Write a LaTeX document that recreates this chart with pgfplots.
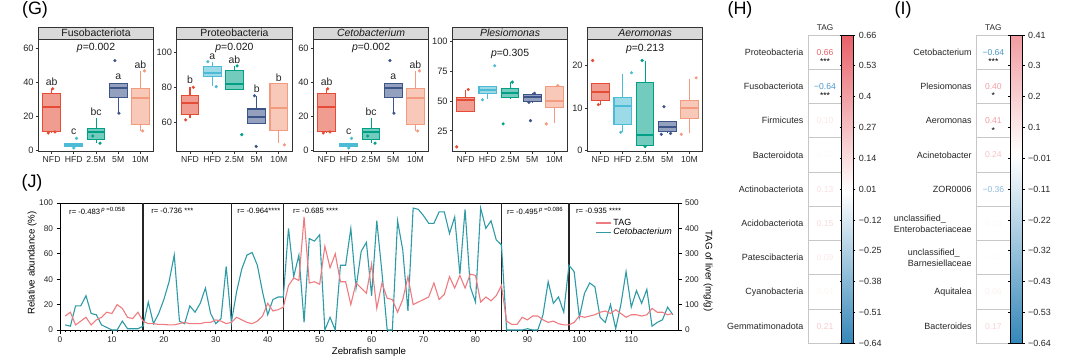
\documentclass[border=0pt]{standalone}
\usepackage{fontspec}
\setmainfont{Liberation Sans}
\usepackage{pgfplots}
\usepackage{pgfplotstable}
\pgfplotsset{compat=1.18}
\usepgfplotslibrary{statistics}
\newcommand{\fs}[1]{\fontsize{#1}{#1}\selectfont}
\definecolor{cNFD}{HTML}{E64B35}
\definecolor{cHFD}{HTML}{4DBBD5}
\definecolor{cA}{HTML}{00A087}
\definecolor{cB}{HTML}{3C5488}
\definecolor{cC}{HTML}{F39B7F}
\definecolor{tagred}{HTML}{EE7B80}
\definecolor{cetoteal}{HTML}{2E9AA6}
\definecolor{hred}{RGB}{232,96,104}
\definecolor{hbluet}{RGB}{74,152,200}

\pgfplotstableread[row sep=\\]{
x y\\
1 4\\2 3\\3 19\\4 19\\5 27\\6 13\\7 12\\8 4\\9 2\\10 0\\11 0\\12 7\\13 1\\14 1\\15 1\\16 3\\17 22\\18 5\\19 13\\20 24\\21 38\\22 59\\23 7\\24 5\\25 19\\26 14\\27 21\\28 33\\29 13\\30 5\\31 9\\32 50\\33 6\\34 30\\35 48\\36 59\\37 61\\38 51\\39 30\\40 12\\41 24\\42 26\\43 26\\44 80\\45 42\\46 59\\47 6\\48 72\\49 70\\50 75\\51 0\\52 10\\53 0\\54 51\\55 51\\56 80\\57 33\\58 62\\59 69\\60 27\\61 86\\62 45\\63 0\\64 0\\65 86\\66 63\\67 15\\68 96\\69 95\\70 90\\71 84\\72 84\\73 93\\74 93\\75 76\\76 89\\77 44\\78 95\\79 34\\80 22\\81 96\\82 80\\83 86\\84 71\\85 67\\86 0\\87 0\\88 0\\89 0\\90 1\\91 0\\92 0\\93 12\\94 38\\95 21\\96 26\\97 14\\98 51\\99 46\\100 10\\101 29\\102 37\\103 34\\104 10\\105 6\\106 20\\107 1\\108 20\\109 46\\110 18\\111 31\\112 21\\113 32\\114 3\\115 6\\116 8\\117 18\\118 12\\
}\cetotab

\pgfplotstableread[row sep=\\]{
x y\\
1 55\\2 70\\3 20\\4 35\\5 50\\6 20\\7 40\\8 50\\9 70\\10 65\\11 100\\12 85\\13 50\\14 45\\15 70\\16 35\\17 25\\18 25\\19 22\\20 22\\21 20\\22 20\\23 25\\24 30\\25 25\\26 25\\27 25\\28 30\\29 30\\30 40\\31 35\\32 25\\33 30\\34 50\\35 40\\36 30\\37 25\\38 35\\39 55\\40 105\\41 75\\42 80\\43 90\\44 175\\45 205\\46 195\\47 445\\48 185\\49 190\\50 180\\51 330\\52 245\\53 300\\54 190\\55 190\\56 100\\57 185\\58 165\\59 145\\60 260\\61 85\\62 185\\63 125\\64 120\\65 70\\66 120\\67 210\\68 100\\69 110\\70 120\\71 130\\72 185\\73 120\\74 140\\75 210\\76 165\\77 215\\78 165\\79 220\\80 215\\81 110\\82 130\\83 115\\84 135\\85 175\\86 35\\87 22\\88 22\\89 50\\90 40\\91 55\\92 55\\93 40\\94 30\\95 35\\96 25\\97 20\\98 20\\99 30\\100 55\\101 50\\102 55\\103 60\\104 70\\105 75\\106 65\\107 80\\108 65\\109 50\\110 60\\111 60\\112 55\\113 60\\114 85\\115 70\\116 70\\117 60\\118 65\\
}\tagtab

\pgfplotsset{
 gpanel/.style={scale only axis, width=115.5bp, height=112.4bp, anchor=south west,
  xmin=0.4, xmax=5.6, xtick={1,2,3,4,5}, xticklabels={NFD,HFD,2.5M,5M,10M},
  tick align=outside, tick pos=left, major tick length=2.5bp,
  axis line style={black!80, line width=0.8bp},
  tick style={black!80, line width=0.8bp},
  xticklabel style={font=\fs{8.7}, text=black!85, inner sep=2bp},
  yticklabel style={font=\fs{9.3}, text=black!85, inner sep=2bp},
  /pgf/number format/assume math mode=true,
  boxplot/draw direction=y, clip=false,
  boxplot/box extend=0.8, boxplot/whisker extend=0,
  boxplot/every median/.style={line width=2bp},
 },
 hpanel/.style={scale only axis, anchor=south west, height=308.3bp,
  xmin=0, xmax=1, ymin=0, ymax=9, xtick=\empty,
  ytick={0.5,1.5,...,8.5}, major tick length=0pt,
  minor ytick={1,2,...,8}, yminorgrids=true, minor tick length=0pt,
  minor grid style={black!22, line width=1bp},
  axis line style={black!22, line width=1bp},
  yticklabel style={font=\fs{9}, text=black!85, xshift=-1.5bp, align=left},
  clip=false, colorbar shift/.style={xshift=0pt},
 },
}
\newcommand{\bx}[7]{\addplot[boxplot prepared={draw position=#2, lower whisker=#3, lower quartile=#4, median=#5, upper quartile=#6, upper whisker=#7}, draw=#1, fill=#1!55!white, line width=1.1bp, mark=none] coordinates {};}
\newcommand{\pts}[2]{\addplot[only marks, mark=*, mark size=1.4bp, color=#1] coordinates {#2};}
\newcommand{\strip}[1]{\draw[black!80, line width=0.8bp, fill=black!15] (rel axis cs:0,1) rectangle ([yshift=12.3bp]rel axis cs:1,1); \node[font=\fs{10.5}, text=black!90] at ([yshift=6.2bp]rel axis cs:0.5,1) {#1};}
\newcommand{\lt}[3]{\node[font=\fs{10.5}, text=black!85] at (axis cs:#1,#2) {#3};}
\newcommand{\pv}[2]{\node[font=\fs{10.5}, text=black!90] at (axis cs:3,#1) {\textit{p}=#2};}

\begin{document}
\begin{tikzpicture}
\useasboundingbox (0,0) rectangle (1080bp,359bp);

% panel letters
\node[font=\fs{18}] at (35bp,349bp) {(G)};
\node[font=\fs{18}] at (740bp,349bp) {(H)};
\node[font=\fs{18}] at (903bp,349bp) {(I)};
\node[font=\fs{18}] at (32bp,176bp) {(J)};

% ---------- G1 Fusobacteriota
\begin{axis}[gpanel, at={(38.3bp,207.3bp)}, ymin=-0.6, ymax=65.3, ytick={0,20,40,60}]
\bx{cNFD}{1}{10.5}{11.5}{25.4}{33.6}{36}
\bx{cHFD}{2}{1.5}{2.3}{3.2}{4.0}{4.6}
\bx{cA}{3}{4.7}{6.6}{10.7}{13.1}{19}
\bx{cB}{4}{21.9}{31}{37}{39.5}{39.5}
\bx{cC}{5}{11.5}{15.4}{31}{36.5}{46.7}
\pts{cNFD}{(1.05,36.3)(0.85,10.4)(1.15,11.0)}
\pts{cHFD}{(2.12,7.2)(2.0,1.6)}
\pts{cA}{(3.18,4.4)(2.85,8.6)}
\pts{cB}{(3.85,52.8)(4.03,22.0)}
\pts{cC}{(5.18,46.8)(5.1,11.6)}
\lt{1}{40.2}{ab}\lt{2}{11.1}{c}\lt{3}{22.9}{bc}\lt{4}{43.6}{a}\lt{5}{50.6}{ab}
\pv{60.4}{0.002}
\strip{Fusobacteriota}
\end{axis}

% ---------- G2 Proteobacteria
\begin{axis}[gpanel, at={(176.7bp,207.3bp)}, ymin=43.5, ymax=107.4, ytick={60,80,100}]
\bx{cNFD}{1}{62.5}{64.7}{71}{75.4}{80.1}
\bx{cHFD}{2}{81}{86.5}{88.4}{91.8}{94.7}
\bx{cA}{3}{79}{79}{81.8}{89.6}{92.4}
\bx{cB}{4}{59.6}{59.6}{63.4}{67.8}{75.2}
\bx{cC}{5}{48.2}{55.8}{68.2}{82.4}{82.4}
\pts{cNFD}{(1.15,80.1)(0.8,61.6)}
\pts{cHFD}{(1.8,94.7)(2.18,80.5)}
\pts{cA}{(3.33,53.2)(3.12,92.3)}
\pts{cB}{(3.9,75.3)(3.98,46.5)}
\pts{cC}{(5.25,47.4)}
\lt{1}{84.3}{b}\lt{2}{97.6}{a}\lt{3}{95.9}{ab}\lt{4}{79.2}{b}\lt{5}{85.8}{b}
\pv{102.7}{0.020}
\strip{Proteobacteria}
\end{axis}

% ---------- G3 Cetobacterium
\begin{axis}[gpanel, at={(313.3bp,207.3bp)}, ymin=-0.6, ymax=65.3, ytick={0,20,40,60}]
\bx{cNFD}{1}{10.5}{11.5}{25.4}{33.6}{36}
\bx{cHFD}{2}{1.5}{2.3}{3.2}{4.0}{4.6}
\bx{cA}{3}{4.7}{6.6}{10.7}{13.1}{19}
\bx{cB}{4}{21.9}{31}{37}{39.5}{39.5}
\bx{cC}{5}{11.5}{15.4}{31}{36.5}{46.7}
\pts{cNFD}{(1.05,36.3)(0.85,10.4)(1.15,11.0)}
\pts{cHFD}{(2.12,7.2)(2.0,1.6)}
\pts{cA}{(3.18,4.4)(2.85,8.6)}
\pts{cB}{(3.85,52.8)(4.03,22.0)}
\pts{cC}{(5.18,46.8)(5.1,11.6)}
\lt{1}{40.2}{ab}\lt{2}{11.1}{c}\lt{3}{22.9}{bc}\lt{4}{43.6}{a}\lt{5}{50.6}{ab}
\pv{60.4}{0.002}
\strip{\textit{Cetobacterium}}
\end{axis}

% ---------- G4 Plesiomonas
\begin{axis}[gpanel, at={(452.3bp,207.3bp)}, ymin=7.5, ymax=102, ytick={25,50,75,100}]
\bx{cNFD}{1}{41}{41}{51.2}{53}{59.2}
\bx{cHFD}{2}{51.7}{56.5}{59.2}{62}{63}
\bx{cA}{3}{52.3}{53}{57}{61}{66.4}
\bx{cB}{4}{49}{49.6}{53.9}{55.7}{56.6}
\bx{cC}{5}{31.7}{44.3}{49.9}{62}{63}
\pts{cNFD}{(1.12,59.8)(0.6,11.6)}
\pts{cHFD}{(2.31,79.8)(1.76,51.2)}
\pts{cA}{(2.69,30.9)(3.1,66)}
\pts{cB}{(3.92,33.6)(4.1,56.6)(3.85,49.0)}
\pts{cC}{(4.63,30.9)(5.15,63)}
\pv{89.7}{0.305}
\strip{\textit{Plesiomonas}}
\end{axis}

% ---------- G5 Aeromonas
\begin{axis}[gpanel, at={(587.3bp,207.3bp)}, ymin=-0.3, ymax=26.2, ytick={0,10,20}]
\bx{cNFD}{1}{10.8}{11.8}{13.8}{15.7}{15.7}
\bx{cHFD}{2}{4.4}{6.1}{10.5}{12.4}{18}
\bx{cA}{3}{0.9}{1.2}{3.7}{16}{21.2}
\bx{cB}{4}{4}{4.4}{5.6}{6.8}{6.8}
\bx{cC}{5}{4}{7.5}{9.9}{11.8}{16.9}
\pts{cNFD}{(0.64,21.2)(0.9,10.8)}
\pts{cHFD}{(2.39,18.3)(1.91,4.3)}
\pts{cA}{(2.87,21.2)(3.0,0.9)}
\pts{cB}{(3.85,10.3)(3.73,3.8)(4.15,4.0)}
\pts{cC}{(5.3,17.1)(4.63,3.8)}
\pv{24.0}{0.213}
\strip{\textit{Aeromonas}}
\end{axis}

% ---------- J left axis (Cetobacterium)
\begin{axis}[at={(60bp,29bp)}, anchor=south west, scale only axis, width=618bp, height=127bp,
 xmin=0, xmax=119, ymin=0, ymax=100,
 xtick={0,10,...,110}, minor x tick num=9, ytick={0,20,...,100},
 tick align=outside, tick pos=left, major tick length=3.5bp, minor tick length=2bp,
 axis line style={black, line width=0.9bp}, tick style={black, line width=0.8bp},
 ticklabel style={font=\fs{8.3}, text=black!85},
 /pgf/number format/assume math mode=true,
 extra x ticks={16,33,43,85,98}, extra x tick labels={},
 extra x tick style={grid=major, major grid style={black!85, line width=1.2bp}, major tick length=0pt},
 clip=false]
\addplot[cetoteal, line width=1.1bp] table[x=x,y=y] {\cetotab};
\node[anchor=west, font=\fs{7.7}] at (axis cs:1.1,93.6) {r= -0.483\,\raisebox{2.5bp}{\fs{6}\textit{p} =0.058}};
\node[anchor=west, font=\fs{7.7}] at (axis cs:16.9,93.6) {r= -0.736 \raisebox{0.5bp}{***}};
\node[anchor=west, font=\fs{7.7}] at (axis cs:33.5,93.6) {r= -0.964\raisebox{0.5bp}{****}};
\node[anchor=west, font=\fs{7.7}] at (axis cs:44.2,93.6) {r= -0.685 \raisebox{0.5bp}{****}};
\node[anchor=west, font=\fs{7.7}] at (axis cs:85.4,93.6) {r= -0.495\,\raisebox{2.5bp}{\fs{6}\textit{p} =0.086}};
\node[anchor=west, font=\fs{7.7}] at (axis cs:98.7,93.6) {r= -0.935 \raisebox{0.5bp}{****}};
\end{axis}

% ---------- J right axis (TAG)
\begin{axis}[at={(60bp,29bp)}, anchor=south west, scale only axis, width=618bp, height=127bp,
 xmin=0, xmax=119, ymin=0, ymax=500,
 axis x line=none, axis y line*=right, ytick={0,100,...,500},
 tick align=outside, major tick length=3.5bp,
 axis line style={black, line width=0.9bp}, tick style={black, line width=0.8bp},
 ticklabel style={font=\fs{8.3}, text=black!85},
 /pgf/number format/assume math mode=true,
 legend style={at={(0.866,0.89)}, anchor=north west, draw=none, fill=none, font=\fs{9}, row sep=-2.5bp, inner sep=0pt},
 legend cell align=left,
 legend image code/.code={\draw[#1] (0bp,0bp) -- (15bp,0bp);},
 clip=false]
\addplot[tagred, line width=1.1bp] table[x=x,y=y] {\tagtab};
\addlegendentry{TAG}
\addlegendimage{cetoteal, line width=1.1bp}
\addlegendentry{\textit{Cetobacterium}}
\end{axis}

\node[rotate=90, font=\fs{9.7}] at (32bp,96bp) {Relative abundance (\%)};
\node[rotate=-90, font=\fs{9.7}] at (708bp,88bp) {TAG of liver (mg/g)};
\node[font=\fs{9.7}] at (369bp,6.5bp) {Zebrafish sample};

% ---------- H heatmap
\begin{axis}[hpanel, at={(808.3bp,15.7bp)}, width=33.4bp,
 yticklabels={Gemmatimonadota,Cyanobacteria,Patescibacteria,Acidobacteriota,Actinobacteriota,Bacteroidota,Firmicutes,Fusobacteriota,Proteobacteria},
 point meta min=-0.64, point meta max=0.66,
 colormap={hmapH}{rgb255(0bp)=(52,135,185); rgb255(64bp)=(255,255,255); rgb255(130bp)=(232,96,104)},
 colorbar,
 colorbar style={at={(parent axis.north east)}, anchor=north west, scale only axis, width=11.6bp, height=308.3bp,
  ytick={-0.64,-0.51,-0.38,-0.25,-0.12,0.01,0.14,0.27,0.40,0.53,0.66},
  yticklabels={−0.64,−0.51,−0.38,−0.25,−0.12,0.01,0.14,0.27,0.4,0.53,0.66},
  yticklabel style={font=\fs{9}, text=black!85},
  tick align=outside, major tick length=2bp, tick style={black, line width=0.7bp},
  axis line style={black, line width=1bp}}]
\addplot[draw=none, mark=none, forget plot] coordinates {(0.5,0.5)};
\node[font=\fs{8.3}, text=black!85] at ([yshift=7bp]axis cs:0.5,9) {TAG};
\node[font=\fs{8.6}, text=hred] at (axis cs:0.5,8.5) {0.66};
\node[font=\fs{8.6}] at (axis cs:0.5,8.22) {***};
\node[font=\fs{8.6}, text=hbluet] at (axis cs:0.5,7.5) {−0.64};
\node[font=\fs{8.6}] at (axis cs:0.5,7.22) {***};
\node[font=\fs{8.6}, text={rgb,255:red,251;green,229;blue,230}] at (axis cs:0.5,6.5) {0.10};
\node[font=\fs{8.6}, text={rgb,255:red,254;green,249;blue,249}] at (axis cs:0.5,5.5) {0.02};
\node[font=\fs{8.6}, text={rgb,255:red,250;green,222;blue,223}] at (axis cs:0.5,4.5) {0.13};
\node[font=\fs{8.6}, text={rgb,255:red,250;green,218;blue,219}] at (axis cs:0.5,3.5) {0.15};
\node[font=\fs{8.6}, text={rgb,255:red,252;green,231;blue,232}] at (axis cs:0.5,2.5) {0.09};
\node[font=\fs{8.6}, text={rgb,255:red,254;green,246;blue,246}] at (axis cs:0.5,1.5) {0.04};
\node[font=\fs{8.6}, text={rgb,255:red,247;green,203;blue,205}] at (axis cs:0.5,0.5) {0.21};
\end{axis}

% ---------- I heatmap
\begin{axis}[hpanel, at={(976.7bp,15.7bp)}, width=33.3bp,
 yticklabels={Bacteroides,Aquitalea,{unclassified\_\\Barnesiellaceae},{unclassified\_\\Enterobacteriaceae},ZOR0006,Acinetobacter,Aeromonas,Plesiomonas,Cetobacterium},
 yticklabel style={font=\fontsize{9}{11}\selectfont},
 point meta min=-0.64, point meta max=0.41,
 colormap={hmapI}{rgb255(0bp)=(52,135,185); rgb255(64bp)=(255,255,255); rgb255(105bp)=(241,156,161)},
 colorbar,
 colorbar style={at={(parent axis.north east)}, anchor=north west, scale only axis, width=12.7bp, height=308.3bp,
  ytick={-0.64,-0.535,-0.43,-0.325,-0.22,-0.115,-0.01,0.095,0.2,0.305,0.41},
  yticklabels={−0.64,−0.53,−0.43,−0.32,−0.22,−0.11,−0.01,0.1,0.2,0.3,0.41},
  yticklabel style={font=\fs{9}, text=black!85},
  tick align=outside, major tick length=2bp, tick style={black, line width=0.7bp},
  axis line style={black, line width=1bp}}]
\addplot[draw=none, mark=none, forget plot] coordinates {(0.5,0.5)};
\node[font=\fs{8.3}, text=black!85] at ([yshift=7bp]axis cs:0.5,9) {TAG};
\node[font=\fs{8.6}, text=hbluet] at (axis cs:0.5,8.5) {−0.64};
\node[font=\fs{8.6}] at (axis cs:0.5,8.22) {***};
\node[font=\fs{8.6}, text={rgb,255:red,241;green,159;blue,164}] at (axis cs:0.5,7.5) {0.40};
\node[font=\fs{8.6}] at (axis cs:0.5,7.22) {*};
\node[font=\fs{8.6}, text={rgb,255:red,241;green,156;blue,161}] at (axis cs:0.5,6.5) {0.41};
\node[font=\fs{8.6}] at (axis cs:0.5,6.22) {*};
\node[font=\fs{8.6}, text={rgb,255:red,246;green,195;blue,198}] at (axis cs:0.5,5.5) {0.24};
\node[font=\fs{8.6}, text={rgb,255:red,141;green,187;blue,216}] at (axis cs:0.5,4.5) {−0.36};
\node[font=\fs{8.6}, text={rgb,255:red,254;green,247;blue,247}] at (axis cs:0.5,3.5) {0.03};
\node[font=\fs{8.6}, text={rgb,255:red,254;green,250;blue,250}] at (axis cs:0.5,2.5) {0.02};
\node[font=\fs{8.6}, text={rgb,255:red,253;green,240;blue,240}] at (axis cs:0.5,1.5) {0.06};
\node[font=\fs{8.6}, text={rgb,255:red,249;green,213;blue,215}] at (axis cs:0.5,0.5) {0.17};
\end{axis}
\end{tikzpicture}
\end{document}
